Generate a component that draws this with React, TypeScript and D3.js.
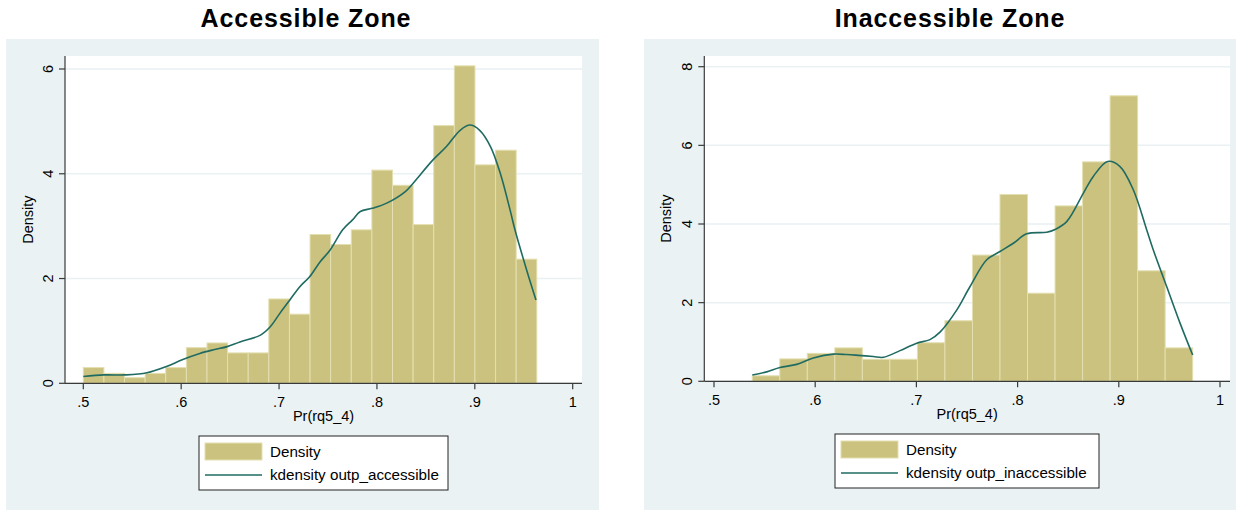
import React from "react";
import * as d3 from "d3";

// Histogram bins: [start, width], heights are densities
const accStart = 0.5;
const accBinWidth = 0.02106;
const accDensity = [
  0.3, 0.19, 0.107, 0.19, 0.3, 0.68, 0.77, 0.58, 0.58, 1.61, 1.32,
  2.84, 2.65, 2.93, 4.07, 3.78, 3.03, 4.92, 6.06, 4.17, 4.45, 2.37,
];

const inaStart = 0.5378;
const inaBinWidth = 0.0272;
const inaDensity = [
  0.14, 0.57, 0.71, 0.85, 0.56, 0.56, 0.98, 1.54, 3.21, 4.75, 2.24,
  4.46, 5.58, 7.26, 2.81, 0.85,
];

// Kernel density estimates: [x, density]
const accKde: [number, number][] = [
  [0.5, 0.13], [0.521, 0.16], [0.543, 0.16], [0.565, 0.2], [0.585, 0.32],
  [0.601, 0.45], [0.619, 0.57], [0.633, 0.64], [0.647, 0.7], [0.66, 0.79],
  [0.681, 0.92], [0.691, 1.08], [0.701, 1.34], [0.711, 1.59], [0.721, 1.84],
  [0.731, 2.03], [0.742, 2.32], [0.752, 2.54], [0.765, 2.93], [0.775, 3.12],
  [0.783, 3.28], [0.795, 3.34], [0.81, 3.44], [0.829, 3.66], [0.837, 3.82],
  [0.857, 4.26], [0.871, 4.52], [0.885, 4.83], [0.895, 4.93], [0.905, 4.83],
  [0.916, 4.52], [0.926, 4.01], [0.936, 3.31], [0.941, 2.93], [0.953, 2.16],
  [0.9625, 1.59],
];

const inaKde: [number, number][] = [
  [0.5378, 0.16], [0.5521, 0.24], [0.5652, 0.35], [0.5817, 0.43], [0.5981, 0.59],
  [0.6179, 0.69], [0.6311, 0.68], [0.6426, 0.66], [0.6574, 0.63], [0.6673, 0.61],
  [0.6838, 0.78], [0.7003, 0.97], [0.7134, 1.06], [0.7233, 1.25], [0.7398, 1.81],
  [0.753, 2.41], [0.7695, 3.09], [0.7826, 3.3], [0.7958, 3.51], [0.809, 3.75],
  [0.8288, 3.79], [0.837, 3.86], [0.8485, 4.06], [0.8649, 4.78], [0.8748, 5.21],
  [0.889, 5.59], [0.9012, 5.46], [0.9143, 4.87], [0.9276, 3.85], [0.9341, 3.34],
  [0.9473, 2.41], [0.9605, 1.48], [0.973, 0.67],
];

const xTicks = [0.5, 0.6, 0.7, 0.8, 0.9, 1];
const xTickLabels = [".5", ".6", ".7", ".8", ".9", "1"];
const accYTicks = [0, 2, 4, 6];
const inaYTicks = [0, 2, 4, 6, 8];

const FONT = "'Liberation Sans', Arial, Helvetica, sans-serif";
const BAR_FILL = "#cac27e";
const BAR_STROKE = "#e4dfb0";
const LINE = "#1f6b62";
const PANEL_BG = "#eaf2f3";
const GRID = "#e9f1f2";
const AXIS = "#3a3a3a";

interface PanelProps {
  title: string;
  titleX: number;
  legendLabel: string;
  start: number;
  binWidth: number;
  density: number[];
  kde: [number, number][];
  yTicks: number[];
  yMax: number;
  panel: { x0: number; x1: number; y0: number; y1: number };
  plot: { x0: number; x1: number; y0: number; y1: number };
  xRange: [number, number];
  yRange: [number, number];
  legend: { x0: number; x1: number; y0: number; y1: number };
}

function Panel(p: PanelProps) {
  const x = d3.scaleLinear().domain([0.5, 1]).range(p.xRange);
  const y = d3.scaleLinear().domain([0, p.yMax]).range(p.yRange);
  const line = d3
    .line<[number, number]>()
    .x((d) => x(d[0]))
    .y((d) => y(d[1]))
    .curve(d3.curveCatmullRom.alpha(0.5));
  const plotCx = (p.plot.x0 + p.plot.x1) / 2;
  const plotCy = (p.plot.y0 + p.plot.y1) / 2;
  const lg = p.legend;
  const lgH = lg.y1 - lg.y0;
  return (
    <g>
      <rect x={p.panel.x0} y={p.panel.y0} width={p.panel.x1 - p.panel.x0} height={p.panel.y1 - p.panel.y0} fill={PANEL_BG} />
      <rect x={p.plot.x0} y={p.plot.y0} width={p.plot.x1 - p.plot.x0} height={p.plot.y1 - p.plot.y0} fill="#ffffff" />
      <text x={p.titleX} y={27} textAnchor="middle" fontFamily={FONT} fontWeight="bold" fontSize={25} letterSpacing={0.9} fill="#000">
        {p.title}
      </text>
      {p.yTicks.map((t) => (
        <line key={"g" + t} x1={p.plot.x0} x2={p.plot.x1} y1={y(t)} y2={y(t)} stroke={GRID} strokeWidth={1.5} />
      ))}
      {p.density.map((d, i) => {
        const a = p.start + i * p.binWidth;
        const b = a + p.binWidth;
        return (
          <rect key={"b" + i} x={x(a)} y={y(d)} width={x(b) - x(a)} height={y(0) - y(d)} fill={BAR_FILL} stroke={BAR_STROKE} strokeWidth={1} />
        );
      })}
      <path d={line(p.kde) || ""} fill="none" stroke={LINE} strokeWidth={1.6} />
      {/* axes */}
      <line x1={p.plot.x0} x2={p.plot.x0} y1={p.plot.y0} y2={p.plot.y1} stroke={AXIS} strokeWidth={1.2} />
      <line x1={p.plot.x0} x2={p.plot.x1} y1={p.plot.y1} y2={p.plot.y1} stroke={AXIS} strokeWidth={1.2} />
      {p.yTicks.map((t) => (
        <g key={"yt" + t}>
          <line x1={p.plot.x0 - 6} x2={p.plot.x0} y1={y(t)} y2={y(t)} stroke={AXIS} strokeWidth={1.2} />
          <text transform={`translate(${p.plot.x0 - 12},${y(t)}) rotate(-90)`} textAnchor="middle" fontFamily={FONT} fontSize={14.5} fill="#000">
            {t}
          </text>
        </g>
      ))}
      {xTicks.map((t, i) => (
        <g key={"xt" + t}>
          <line x1={x(t)} x2={x(t)} y1={p.plot.y1} y2={p.plot.y1 + 6} stroke={AXIS} strokeWidth={1.2} />
          <text x={x(t)} y={p.plot.y1 + 24} textAnchor="middle" fontFamily={FONT} fontSize={14.5} fill="#000">
            {xTickLabels[i]}
          </text>
        </g>
      ))}
      <text x={plotCx} y={p.plot.y1 + 38} textAnchor="middle" fontFamily={FONT} fontSize={14.5} fill="#000">
        Pr(rq5_4)
      </text>
      <text transform={`translate(${p.panel.x0 + 27},${plotCy}) rotate(-90)`} textAnchor="middle" fontFamily={FONT} fontSize={14.5} fill="#000">
        Density
      </text>
      {/* legend */}
      <rect x={lg.x0} y={lg.y0} width={lg.x1 - lg.x0} height={lgH} fill="#ffffff" stroke="#222" strokeWidth={1} />
      <rect x={lg.x0 + 6} y={lg.y0 + 7} width={57} height={17} fill={BAR_FILL} stroke={BAR_STROKE} strokeWidth={1} />
      <line x1={lg.x0 + 6} x2={lg.x0 + 63} y1={lg.y0 + 39} y2={lg.y0 + 39} stroke={LINE} strokeWidth={1.6} />
      <text x={lg.x0 + 71} y={lg.y0 + 21} fontFamily={FONT} fontSize={15.2} fill="#000">
        Density
      </text>
      <text x={lg.x0 + 71} y={lg.y0 + 44} fontFamily={FONT} fontSize={15.2} fill="#000">
        {p.legendLabel}
      </text>
    </g>
  );
}

export default function App() {
  return (
    <svg width={1236} height={510} style={{ position: "absolute", left: 0, top: 0, display: "block" }}>
      <rect x={0} y={0} width={1236} height={510} fill="#ffffff" />
      <Panel
        title="Accessible Zone"
        titleX={306}
        legendLabel="kdensity outp_accessible"
        start={accStart}
        binWidth={accBinWidth}
        density={accDensity}
        kde={accKde}
        yTicks={accYTicks}
        yMax={6}
        panel={{ x0: 6, x1: 599, y0: 39, y1: 510 }}
        plot={{ x0: 65, x1: 582, y0: 56, y1: 383.3 }}
        xRange={[83.3, 572.7]}
        yRange={[383.3, 69]}
        legend={{ x0: 199, x1: 448, y0: 436, y1: 490 }}
      />
      <Panel
        title="Inaccessible Zone"
        titleX={950}
        legendLabel="kdensity outp_inaccessible"
        start={inaStart}
        binWidth={inaBinWidth}
        density={inaDensity}
        kde={inaKde}
        yTicks={inaYTicks}
        yMax={8}
        panel={{ x0: 644, x1: 1236, y0: 39, y1: 510 }}
        plot={{ x0: 704.3, x1: 1230, y0: 56, y1: 381.3 }}
        xRange={[714, 1220]}
        yRange={[381.3, 66.7]}
        legend={{ x0: 835, x1: 1099, y0: 434, y1: 488 }}
      />
    </svg>
  );
}
